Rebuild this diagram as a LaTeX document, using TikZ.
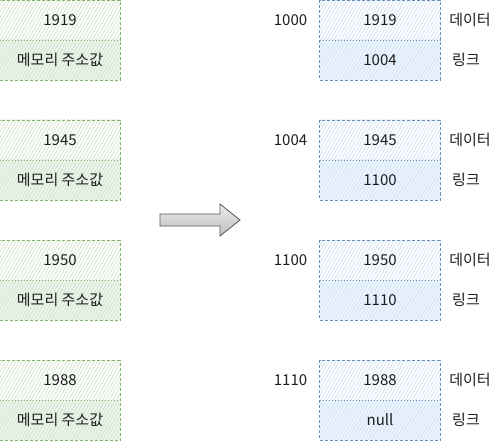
\documentclass[tikz,border=0pt]{standalone}
\usepackage{fontspec}
\setmainfont{Noto Sans CJK KR}
\definecolor{gstroke}{HTML}{82B366}
\definecolor{gfill}{HTML}{D5E8D4}
\definecolor{bstroke}{HTML}{6C8EBF}
\definecolor{bfill}{HTML}{DAE8FC}
\definecolor{txt}{HTML}{1E1E1E}
\newcommand\hatchrect[5]{% x1 y1 x2 y2 colour
  \begin{scope}
    \clip (#1,#2) rectangle (#3,#4);
    \foreach \n in {0,...,52}{
      \pgfmathsetmacro\hx{#1-30+3.4*\n}
      \pgfmathsetmacro\hb{#4}
      \pgfmathsetmacro\ht{#2}
      \draw[#5, line width=0.6pt] (\hx,\hb) -- (\hx+24,\ht-2);
    }
  \end{scope}}
\tikzset{
  cellbox/.style={minimum width=120pt, minimum height=40pt, inner sep=0pt, text=txt},
  gborder/.style={draw=gstroke, line width=0.8pt, dash pattern=on 3pt off 2pt},
  bborder/.style={draw=bstroke, line width=0.8pt, dash pattern=on 3pt off 2pt},
  gdiv/.style={draw=gstroke, line width=0.6pt, dash pattern=on 1.5pt off 1.5pt},
  bdiv/.style={draw=bstroke, line width=0.6pt, dash pattern=on 1.5pt off 1.5pt},
  lbl/.style={text=txt, inner sep=0pt},
}
\begin{document}
\begin{tikzpicture}[x=1pt,y=-1pt,font=\fontsize{15}{17}\selectfont]
\useasboundingbox (0,0) rectangle (501,441);
% green column
\foreach \i/\v in {1/1919,2/1945,3/1950,4/1988}{
  \pgfmathsetmacro\yy{(\i-1)*120}
  \fill[white] (0,\yy) rectangle (120,\yy+40);
  \hatchrect{0}{\yy}{120}{\yy+40}{gfill!85!gstroke}
  \fill[gfill!45] (0,\yy+40) rectangle (120,\yy+80);
  \hatchrect{0}{\yy+40}{120}{\yy+80}{gfill!88!gstroke}
  \node[cellbox] (gd\i) at (60,\yy+20.5) {\v};
  \node[cellbox] (gl\i) at (60,\yy+60) {메모리 주소값};
  \draw[gdiv] (gd\i.south west) -- (gd\i.south east);
  \draw[gborder] (gd\i.north west) rectangle (gl\i.south east);
}
% blue column
\foreach \i/\a/\v/\l in {1/1000/1919/1004,2/1004/1945/1100,3/1100/1950/1110,4/1110/1988/null}{
  \pgfmathsetmacro\yy{(\i-1)*120}
  \fill[white] (320,\yy) rectangle (440,\yy+40);
  \hatchrect{320}{\yy}{440}{\yy+40}{bfill!85!bstroke}
  \fill[bfill!50] (320,\yy+40) rectangle (440,\yy+80);
  \hatchrect{320}{\yy+40}{440}{\yy+80}{bfill!90!bstroke}
  \node[cellbox] (bd\i) at (380,\yy+20.5) {\v};
  \node[cellbox] (bl\i) at (380,\yy+60) {\l};
  \draw[bdiv] (bd\i.south west) -- (bd\i.south east);
  \draw[bborder] (bd\i.north west) rectangle (bl\i.south east);
  \node[lbl] (ad\i) at (290.5,\yy+20) {\a};
  \node[lbl] (dt\i) at (470,\yy+20) {데이터};
  \node[lbl] (lk\i) at (466,\yy+60) {링크};
}
% big arrow
\draw[draw=black!65, line width=0.8pt, top color=black!8, bottom color=black!25]
  (160,214) -- (220,214) -- (220,204) -- (240,220) -- (220,236) -- (220,226) -- (160,226) -- cycle;
\end{tikzpicture}
\end{document}
